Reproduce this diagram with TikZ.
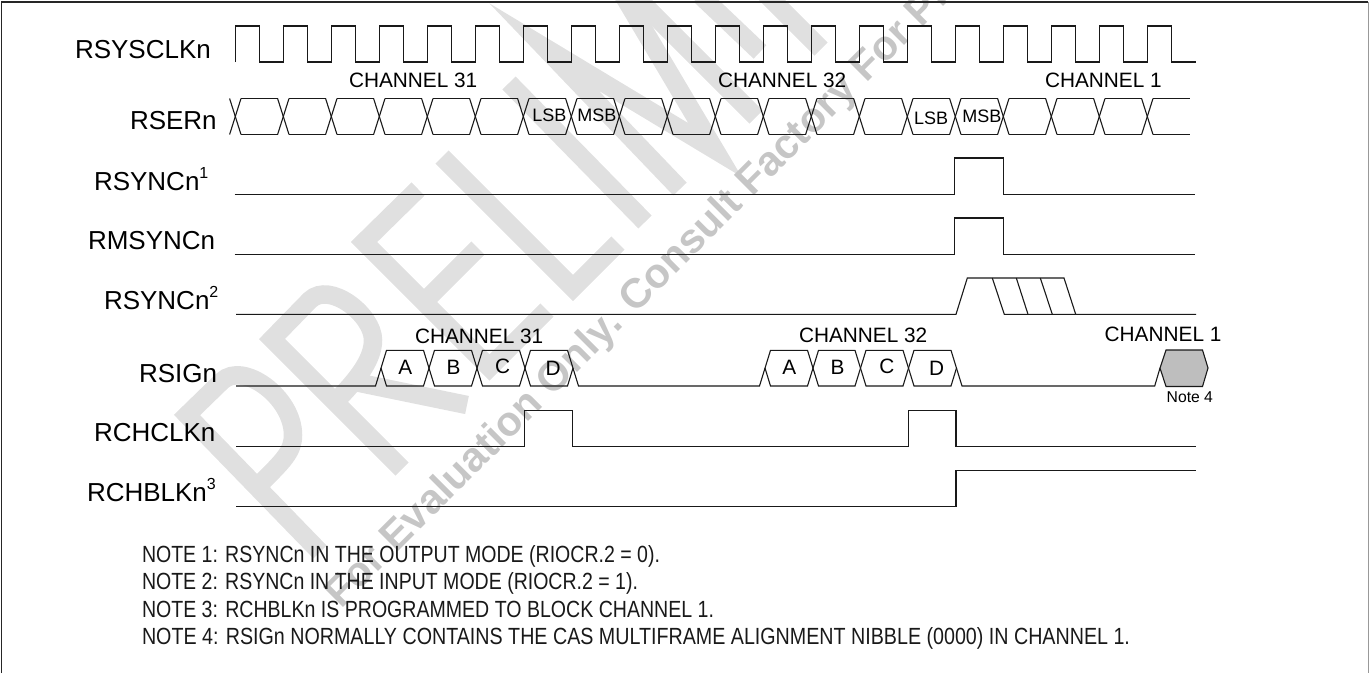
\documentclass[tikz,border=0pt]{standalone}
\usepackage{graphicx}
\usepackage{fontspec}
\setmainfont{Liberation Sans}
\definecolor{wmband}{RGB}{224,224,224}
\definecolor{wmtext}{RGB}{198,198,198}
\definecolor{sigline}{RGB}{25,25,25}
\definecolor{notefill}{RGB}{190,190,190}
\newcommand{\sz}[1]{\fontsize{#1}{#1}\selectfont}
\newcommand{\sgn}[1]{\raisebox{12pt}{\sz{16}#1}}
\newcommand{\notew}[2]{\resizebox{#1}{\height}{\sz{23.4}#2}}
\tikzset{
  sig/.style={draw=sigline,line width=1.1pt,line join=miter},
  band/.style={draw=wmband,line width=18.5pt,line cap=butt,line join=miter},
  lab/.style={anchor=base west,inner sep=0pt,outer sep=0pt,text=black},
  siglab/.style={lab,font=\sz{26}},
  chlab/.style={lab,font=\sz{20.8}},
  bitlab/.style={lab,font=\sz{18}},
  notelab/.style={lab,text=black!90},
}
\begin{document}
\begin{tikzpicture}[x=1pt,y=-1pt]
\useasboundingbox (0,0) rectangle (1369,673);
% watermark
\begin{scope}
\clip (0,0) rectangle (1369,673);
\draw[band] (320,552)--(187,415)--(222,381) .. controls (243,361) and (293,397) .. (293,435) .. controls (293,452) and (283,461) .. (258,486);
\draw[band] (402,469)--(272,339)--(310,300) .. controls (330,281) and (373,315) .. (373,340) .. controls (373,358) and (360,377) .. (335,402);
\draw[band] (355,382)--(467,405);
\draw[band] (418,189)--(364,242)--(489.5,367.5)--(547,310);
\draw[band] (424,302)--(478,248);
\draw[band] (442,157)--(573,288)--(618,243);
\draw[band] (509,83)--(645,222);
\draw[band] (680,189)--(544,47)--(715,150)--(613,-22);
\draw[band] (756,117)--(620,-19);
\draw[band] (700,-5)--(760,52);
\draw[band] (760,-12)--(821,49);
\node[lab,text=wmtext,font=\sz{41.5}\bfseries,rotate=45] (wm) at (341,609) {For Evaluation Only. Consult Factory For Pricing};
\end{scope}
% frame
\coordinate (fa) at (1.5,673);
\coordinate (fb) at (1.5,2);
\coordinate (fc) at (1368,2);
\coordinate (fd) at (1368,673);
\draw[line width=1.5pt,draw=black!85] (fa)--(fb)--(fc);
\draw[line width=1pt,draw=black!40] (fc)--(fd);
% RSYSCLKn
\draw[sig] (235.7,62) \foreach \k in {0,...,19} { -- ({235.7+48*\k},26) -- ({259.7+48*\k},26) -- ({259.7+48*\k},62) -- ({283.7+48*\k},62) };
% RSERn
\foreach \k in {0,...,18}{
  \draw[sig] ({235.3+48*\k+5.7},98.5) -- ({235.3+48*\k+48-5.7},98.5);
  \draw[sig] ({235.3+48*\k+5.7},134.5) -- ({235.3+48*\k+48-5.7},134.5);
}
\foreach \k in {0,...,19}{
  \draw[sig] ({235.3+48*\k-5.7},134.5) -- ({235.3+48*\k+5.7},98.5);
  \draw[sig] ({235.3+48*\k-5.7},98.5) -- ({235.3+48*\k+5.7},134.5);
}
\draw[sig] (1153,98.5)--(1190,98.5);
\draw[sig] (1153,134.5)--(1190,134.5);
% RSYNCn1 / RMSYNCn
\draw[sig] (234.5,194.7)--(954.7,194.7)--(954.7,158)--(1003.3,158)--(1003.3,194.7)--(1195,194.7);
\draw[sig] (234.5,254.3)--(954.7,254.3)--(954.7,218)--(1003.3,218)--(1003.3,254.3)--(1195,254.3);
% RSYNCn2
\draw[sig] (236,314.3)--(956,314.3)--(967.3,278)--(1064,278)--(1075.7,314.3)--(1196,314.3);
\draw[sig] (992.3,278)--(1004.3,314.3)--(1075.7,314.3);
\draw[sig] (1016.3,278)--(1028,314.3);
\draw[sig] (1040.3,278)--(1052.3,314.3);
% RSIGn
\draw[sig] (236,386)--(375.5,386)--(386.5,350.3)--(423.5,350.3)--(434.5,386)--(471.5,386)--(482.5,350.3)--(519.5,350.3)--(530.5,386)--(567.5,386)--(573,368);
\draw[sig] (381,368)--(386.5,386)--(423.5,386)--(434.5,350.3)--(471.5,350.3)--(482.5,386)--(519.5,386)--(530.5,350.3)--(567.5,350.3)--(578.5,386)--(759.5,386)--(770.5,350.3)--(807.5,350.3)--(818.5,386)--(855,386)--(866,350.3)--(903,350.3)--(914,386)--(951,386)--(956.5,368);
\draw[sig] (765,368)--(770.5,386)--(807.5,386)--(818.5,350.3)--(855,350.3)--(866,386)--(903,386)--(914,350.3)--(951,350.3)--(962,386)--(1154.7,386)--(1160,368);
\draw[sig,fill=notefill] (1160,368)--(1166,350)--(1202.5,350)--(1208,368)--(1202.5,386.5)--(1166,386.5)--cycle;
% RCHCLKn
\draw[sig] (236,446.3)--(524.3,446.3)--(524.3,410.3)--(572.3,410.3)--(572.3,446.3)--(908.3,446.3)--(908.3,410.3)--(956,410.3)--(956,446.3)--(1196,446.3);
% RCHBLKn3
\draw[sig] (236,506.3)--(956,506.3)--(956,470.7)--(1196,470.7);
% signal names
\node[siglab] (n1) at (75,58) {RSYSCLKn};
\node[siglab] (n2) at (130,129) {RSERn};
\node[siglab] (n3) at (94,190) {RSYNCn\sgn{1}};
\node[siglab] (n4) at (88,249.5) {RMSYNCn};
\node[siglab] (n5) at (104,309) {RSYNCn\sgn{2}};
\node[siglab] (n6) at (139,382) {RSIGn};
\node[siglab] (n7) at (94,441.7) {RCHCLKn};
\node[siglab] (n8) at (87,501.7) {RCHBLKn\sgn{3}};
% channel labels
\node[chlab] (c1) at (349,87.7) {CHANNEL 31};
\node[chlab] (c2) at (718,87.7) {CHANNEL 32};
\node[chlab] (c3) at (1045,87.7) {CHANNEL 1};
\node[chlab] (c4) at (415,343.3) {CHANNEL 31};
\node[chlab] (c5) at (799,342.7) {CHANNEL 32};
\node[chlab] (c6) at (1104.7,341.7) {CHANNEL 1};
% bits
\node[bitlab] (b1) at (532.3,121.7) {LSB};
\node[bitlab] (b2) at (577.3,121.7) {MSB};
\node[bitlab] (b3) at (914,124.3) {LSB};
\node[bitlab] (b4) at (962.3,122) {MSB};
\node[chlab] (a1) at (398.3,374) {A};
\node[chlab] (a2) at (446.7,374) {B};
\node[chlab] (a3) at (495,373.3) {C};
\node[chlab] (a4) at (545.7,375) {D};
\node[chlab] (a5) at (782.3,374) {A};
\node[chlab] (a6) at (830.7,374) {B};
\node[chlab] (a7) at (879.3,373.3) {C};
\node[chlab] (a8) at (929,375) {D};
\node[lab,font=\sz{15.7}] (n4n) at (1166.7,402.7) {Note 4};
% notes
\node[notelab] (t1) at (142,562) {\notew{518pt}{NOTE 1: RSYNCn IN THE OUTPUT MODE (RIOCR.2 = 0).}};
\node[notelab] (t2) at (142,589.5) {\notew{496pt}{NOTE 2: RSYNCn IN THE INPUT MODE (RIOCR.2 = 1).}};
\node[notelab] (t3) at (142,617) {\notew{572pt}{NOTE 3: RCHBLKn IS PROGRAMMED TO BLOCK CHANNEL 1.}};
\node[notelab] (t4) at (142,644.5) {\notew{988pt}{NOTE 4: RSIGn NORMALLY CONTAINS THE CAS MULTIFRAME ALIGNMENT NIBBLE (0000) IN CHANNEL 1.}};
\end{tikzpicture}
\end{document}
